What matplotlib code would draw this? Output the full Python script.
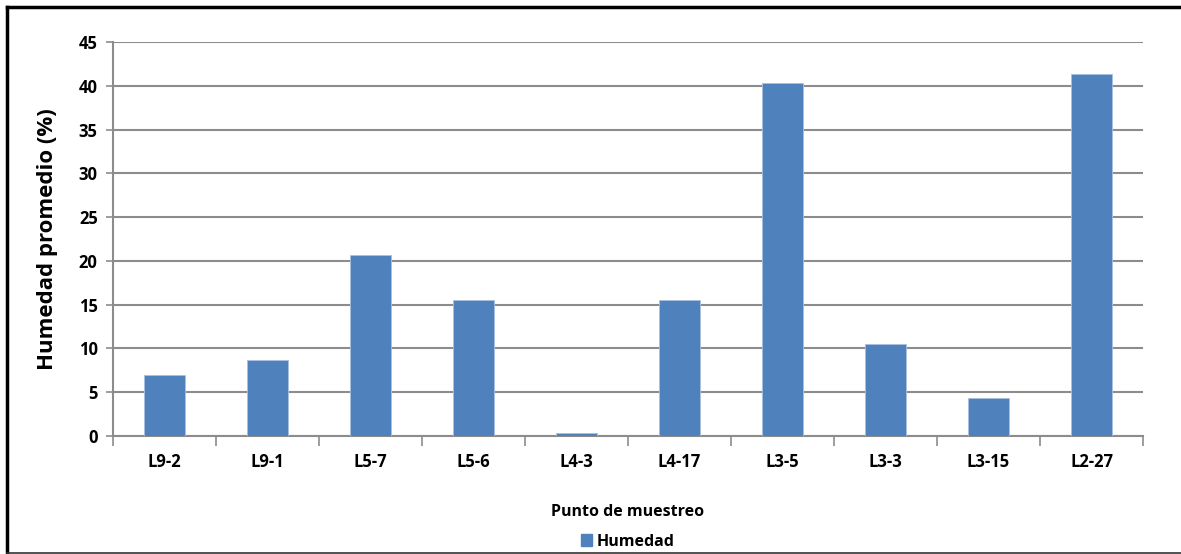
import matplotlib
matplotlib.use("Agg")
import matplotlib.pyplot as plt
from matplotlib.lines import Line2D
from matplotlib.patches import Patch

# Humedad promedio por punto de muestreo
puntos = ["L9-2", "L9-1", "L5-7", "L5-6", "L4-3", "L4-17", "L3-5", "L3-3", "L3-15", "L2-27"]
humedad = [7.0, 8.7, 20.7, 15.5, 0.35, 15.5, 40.3, 10.5, 4.3, 41.4]
y_ticks = [0, 5, 10, 15, 20, 25, 30, 35, 40, 45]

W, H = 1181, 554
plt.rcParams["font.family"] = ["Open Sans", "DejaVu Sans"]
plt.rcParams["font.weight"] = "bold"

fig = plt.figure(figsize=(W / 100, H / 100), dpi=100, facecolor="white")
ax = fig.add_axes([113 / W, 1 - 436 / H, 1030 / W, 394 / H])

grid_c = "#8c8c8c"
x = list(range(len(puntos)))
ax.bar(x, humedad, width=0.4, color="#4f81bd", edgecolor="#a9c0e0", linewidth=0.6, zorder=3)

ax.set_xlim(-0.5, len(puntos) - 0.5)
ax.set_ylim(0, 45)
ax.set_yticks(y_ticks)
ax.set_yticklabels([str(v) for v in y_ticks], fontsize=12, fontweight="bold")
ax.yaxis.grid(True, color=grid_c, lw=1.5, zorder=0)
ax.tick_params(axis="y", length=5, width=1.2, color=grid_c, pad=6)

# category labels centred under bars, tick marks on the boundaries
ax.set_xticks([i - 0.5 for i in range(len(puntos) + 1)])
ax.set_xticklabels([])
ax.set_xticks(x, minor=True)
ax.set_xticklabels(puntos, minor=True, fontsize=12, fontweight="bold")
ax.tick_params(axis="x", which="major", length=7, width=1.2, color=grid_c)
ax.tick_params(axis="x", which="minor", length=0, pad=12)

for s in ("top", "right"):
    ax.spines[s].set_visible(False)
for s in ("left", "bottom"):
    ax.spines[s].set_color(grid_c)
    ax.spines[s].set_linewidth(1.5)

ax.set_ylabel("Humedad promedio (%)", fontsize=16, fontweight="bold", labelpad=15)
ax.set_xlabel("Punto de muestreo", fontsize=11.5, fontweight="bold", labelpad=24)

ax.legend(handles=[Patch(color="#4f81bd", label="Humedad")], loc="center",
          bbox_to_anchor=(0.5, -0.268), frameon=False, fontsize=11.5,
          handlelength=0.7, handleheight=0.7, handletextpad=0.3)

# outer frame of the chart area
fig.add_artist(Line2D([7 / W, 1], [1 - 7 / H, 1 - 7 / H], color="black", lw=2.5, transform=fig.transFigure))
fig.add_artist(Line2D([7 / W, 7 / W], [1 - 7 / H, 1.5 / H], color="black", lw=2.5, transform=fig.transFigure))
fig.add_artist(Line2D([7 / W, 1], [1.5 / H, 1.5 / H], color="#333333", lw=1.2, transform=fig.transFigure))

fig.savefig("out.png", dpi=100, facecolor="white")
